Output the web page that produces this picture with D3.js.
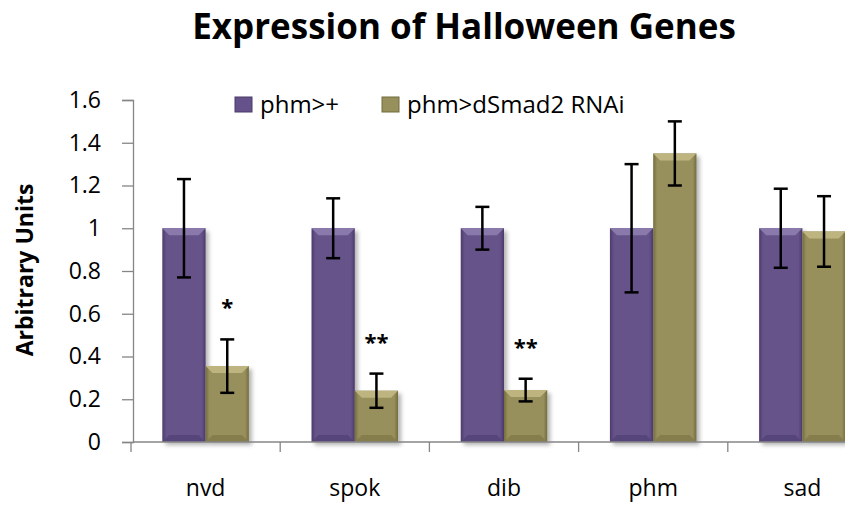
<!doctype html>
<html lang="en">
<head>
<meta charset="UTF-8">
<title>Expression of Halloween Genes</title>
<style>
    body { margin: 0; background: #fff; }
    text { font-family: "Open Sans", "DejaVu Sans", sans-serif; fill: #000; }
</style>
</head>
<body>
<svg id="chart" width="845" height="510"></svg>
<script src="https://cdn.jsdelivr.net/npm/d3@7/dist/d3.min.js"></script>
<script>
    const genes = ["nvd", "spok", "dib", "phm", "sad"];
    const seriesNames = ["phm>+", "phm>dSmad2 RNAi"];
    const control = [1, 1, 1, 1, 1];
    const controlErr = [0.23, 0.14, 0.10, 0.30, 0.185];
    const rnai = [0.355, 0.24, 0.243, 1.35, 0.985];
    const rnaiErr = [0.125, 0.08, 0.053, 0.15, 0.165];
    const stars = ["*", "**", "**", "", ""];
    const yTicks = [0, 0.2, 0.4, 0.6, 0.8, 1, 1.2, 1.4, 1.6];

    const colors = [
        {base: "#66528a", edge: "#4b3b69", light: "#8a79ab", dark: "#56457a"},
        {base: "#98905c", edge: "#736c3d", light: "#bdb47f", dark: "#857d4c"}
    ];

    let rows = genes.map((g, i) => ({
        gene: g,
        star: stars[i],
        vals: [
            {k: 0, v: control[i], e: controlErr[i]},
            {k: 1, v: rnai[i], e: rnaiErr[i]}
        ]
    }));

    let svg = d3.select("#chart");
    const axisColor = "#868686";

    let y = d3.scaleLinear().domain([0, 1.6]).range([442, 100]);

    let x = d3.scaleBand()
        .domain(genes)
        .range([131, 877])
        .paddingInner(0.42)
        .paddingOuter(0.21);

    let xs = d3.scaleBand()
        .domain([0, 1])
        .range([0, x.bandwidth()]);

    // gradients + shadow
    let defs = svg.append("defs");
    colors.forEach(function (c, i) {
        let g = defs.append("linearGradient").attr("id", "grad" + i)
            .attr("x1", 0).attr("x2", 1).attr("y1", 0).attr("y2", 0);
        g.append("stop").attr("offset", "0%").attr("stop-color", c.edge);
        g.append("stop").attr("offset", "9%").attr("stop-color", c.base);
        g.append("stop").attr("offset", "91%").attr("stop-color", c.base);
        g.append("stop").attr("offset", "100%").attr("stop-color", c.edge);
    });
    let f = defs.append("filter").attr("id", "shadow")
        .attr("x", "-20%").attr("y", "-20%").attr("width", "150%").attr("height", "150%");
    f.append("feDropShadow").attr("dx", 3).attr("dy", 3)
        .attr("stdDeviation", 2).attr("flood-color", "#000").attr("flood-opacity", 0.3);

    // title
    svg.append("text")
        .attr("x", 464).attr("y", 39)
        .attr("text-anchor", "middle")
        .attr("font-size", "35px")
        .attr("font-weight", "bold")
        .text("Expression of Halloween Genes");

    // y axis
    let yAxis = svg.append("g")
        .attr("transform", "translate(133,0)")
        .call(d3.axisLeft(y)
            .tickValues(yTicks)
            .tickSize(11)
            .tickPadding(21)
            .tickFormat(d => String(+d.toFixed(1))));
    yAxis.select(".domain").attr("stroke", axisColor).attr("stroke-width", 1.3);
    yAxis.selectAll(".tick line").attr("stroke", axisColor).attr("stroke-width", 1.3);
    yAxis.selectAll("text").attr("font-size", "23px").attr("font-family", "Open Sans").attr("fill", "#222");

    svg.append("text")
        .attr("transform", "translate(33,270) rotate(-90)")
        .attr("text-anchor", "middle")
        .attr("font-size", "23px")
        .attr("font-weight", "bold")
        .text("Arbitrary Units");

    // bars
    let groups = svg.append("g").selectAll("g")
        .data(rows)
        .enter().append("g")
        .attr("transform", d => "translate(" + x(d.gene) + ",0)");

    let bars = groups.selectAll("g.bar")
        .data(d => d.vals)
        .enter().append("g")
        .attr("class", "bar");

    const bev = 7;
    bars.append("rect")
        .attr("x", d => xs(d.k))
        .attr("y", d => y(d.v))
        .attr("width", xs.bandwidth())
        .attr("height", d => y(0) - y(d.v))
        .attr("fill", d => "url(#grad" + d.k + ")")
        .attr("filter", "url(#shadow)");

    bars.append("path")
        .attr("fill", d => colors[d.k].light)
        .attr("d", function (d) {
            let x0 = xs(d.k), x1 = x0 + xs.bandwidth(), t = y(d.v);
            return "M" + x0 + "," + t + "L" + x1 + "," + t + "L" + (x1 - bev) + "," + (t + bev)
                + "L" + (x0 + bev) + "," + (t + bev) + "Z";
        });

    bars.append("path")
        .attr("fill", d => colors[d.k].dark)
        .attr("d", function (d) {
            let x0 = xs(d.k), x1 = x0 + xs.bandwidth(), b = y(0);
            return "M" + x0 + "," + b + "L" + x1 + "," + b + "L" + (x1 - bev) + "," + (b - bev)
                + "L" + (x0 + bev) + "," + (b - bev) + "Z";
        });

    // error bars
    let err = bars.append("g")
        .attr("stroke", "#000")
        .attr("stroke-width", 2.5)
        .attr("transform", d => "translate(" + (xs(d.k) + xs.bandwidth() / 2) + ",0)");
    err.append("line")
        .attr("y1", d => y(d.v + d.e)).attr("y2", d => y(d.v - d.e));
    err.append("line")
        .attr("x1", -7).attr("x2", 7)
        .attr("y1", d => y(d.v + d.e)).attr("y2", d => y(d.v + d.e));
    err.append("line")
        .attr("x1", -7).attr("x2", 7)
        .attr("y1", d => y(d.v - d.e)).attr("y2", d => y(d.v - d.e));

    // significance stars
    groups.append("text")
        .attr("x", xs(1) + xs.bandwidth() / 2)
        .attr("y", d => y(d.vals[1].v + d.vals[1].e) - 24)
        .attr("text-anchor", "middle")
        .attr("font-size", "22px")
        .attr("font-weight", "bold")
        .text(d => d.star);

    // x axis
    let x0 = x.range()[0];
    let bounds = d3.range(genes.length + 1).map(i => x0 + i * x.step());
    let xAxis = svg.append("g");
    xAxis.append("line")
        .attr("x1", x0 + 2).attr("x2", x.range()[1])
        .attr("y1", y(0)).attr("y2", y(0))
        .attr("stroke", axisColor).attr("stroke-width", 1.3);
    xAxis.selectAll("line.tk")
        .data(bounds)
        .enter().append("line")
        .attr("class", "tk")
        .attr("x1", d => d).attr("x2", d => d)
        .attr("y1", y(0)).attr("y2", y(0) + 10)
        .attr("stroke", axisColor).attr("stroke-width", 1.3);

    let xLabels = svg.append("g")
        .attr("transform", "translate(0," + y(0) + ")")
        .call(d3.axisBottom(x).tickSize(0).tickPadding(38));
    xLabels.select(".domain").remove();
    xLabels.selectAll("text").attr("font-size", "23px").attr("font-family", "Open Sans").attr("fill", "#222");

    // legend
    let legend = svg.append("g").selectAll("g")
        .data(seriesNames)
        .enter().append("g")
        .attr("transform", (d, i) => "translate(" + [235, 382][i] + ",97)");
    legend.append("rect")
        .attr("width", 17).attr("height", 15)
        .attr("fill", (d, i) => colors[i].base)
        .attr("stroke", (d, i) => colors[i].edge);
    legend.append("text")
        .attr("x", 25).attr("y", 16)
        .attr("font-size", "24px")
        .attr("fill", "#222")
        .text(d => d);
</script>
</body>
</html>
